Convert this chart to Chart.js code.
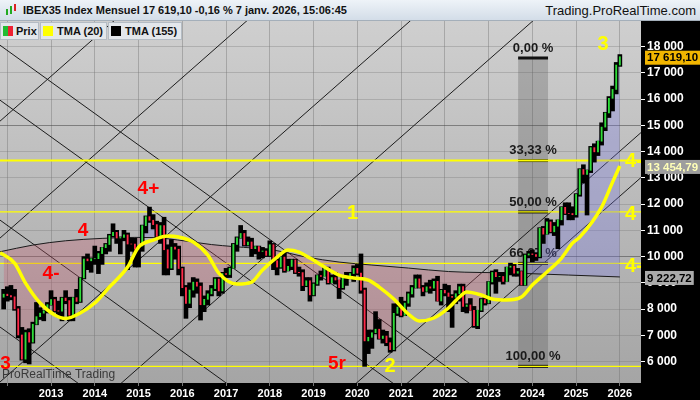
<!DOCTYPE html>
<html>
<head>
<meta charset="utf-8">
<script src="https://cdn.jsdelivr.net/npm/chart.js@4.4.1/dist/chart.umd.min.js"></script>
<style>
  body { margin: 0; background: #000; font-family: "Liberation Sans", Arial, sans-serif; }
  #wrap { position: relative; width: 700px; height: 400px; overflow: hidden; }
  #chart { position: absolute; left: 0; top: 0; }
  #head { position: absolute; left: 0; top: 0; width: 700px; height: 21px; box-sizing: border-box;
          background: linear-gradient(#eef3f8, #d3dde8); border-bottom: 1px solid #a4afba; }
  #head .ico { position: absolute; left: 6px; top: 4px; width: 12px; height: 12px; }
  #head .ico i { position: absolute; width: 2px; }
  #head .ttl { position: absolute; left: 23px; top: 4px; font: bold 11px "Liberation Sans", Arial, sans-serif; color: #111; white-space: nowrap; }
  #head .site { position: absolute; right: 4px; top: 3px; font: 13px "Liberation Sans", Arial, sans-serif; color: #111; }
  .item { position: absolute; top: 22px; height: 18px; box-sizing: border-box; background: #e3e7eb;
          border: 1px solid #b4bcc4; font: bold 11px "Liberation Sans", Arial, sans-serif; color: #111; line-height: 16px; white-space: nowrap; }
  .item b { position: absolute; top: 3px; width: 10px; height: 10px; }
  .item span { position: absolute; top: 0; }
</style>
</head>
<body>
<div id="wrap">
  <canvas id="chart" width="700" height="400"></canvas>
  <div id="head">
    <div class="ico">
      <i style="left:0;top:5px;height:6px;background:#2a2;"></i>
      <i style="left:4px;top:2px;height:8px;background:#2a2;"></i>
      <i style="left:8px;top:0;height:7px;background:#d22;"></i>
    </div>
    <span class="ttl">IBEX35 Index Mensuel 17 619,10 -0,16 % 7 janv. 2026, 15:06:45</span>
    <span class="site">Trading.ProRealTime.com</span>
  </div>
  <div class="item" style="left:0;width:39px"><b style="left:2px;background:linear-gradient(90deg,#22bb33 50%,#ee2233 50%)"></b><span style="left:15px">Prix</span></div>
  <div class="item" style="left:40px;width:67px"><b style="left:2px;background:#ffff00"></b><span style="left:16px">TMA (20)</span></div>
  <div class="item" style="left:108px;width:74px"><b style="left:2px;background:#000"></b><span style="left:16px">TMA (155)</span></div>
</div>
<script>
// IBEX35 monthly candles, Dec 2011 -> Jan 2026
const firstYear = 2011, firstMonth = 12;

const opens = [
  8450,
  8566, 8509, 8465, 8008, 7011, 6089, 7102, 6738, 7420, 7708, 7842, 7934,        // 2012
  8167, 8362, 7933, 7920, 8419, 8320, 7763, 8434, 8290, 9186, 9907, 9838,        // 2013
  9917, 9920, 10114, 10340, 10459, 10798, 10923, 10707, 10729, 10825, 10478, 10477, // 2014
  10280, 10403, 11178, 11521, 11385, 11218, 10770, 11180, 10260, 9560, 10360, 10280, // 2015
  9544, 8815, 8218, 8723, 9025, 8870, 8163, 8370, 8578, 8779, 9143, 8689,        // 2016
  9352, 9315, 9555, 10463, 10715, 10880, 10445, 10556, 10300, 10381, 10198, 10211, // 2017
  10044, 10451, 9840, 9600, 9980, 9466, 9623, 9871, 9399, 9389, 8894, 9077,      // 2018
  8540, 8954, 9277, 9240, 9571, 9004, 9199, 9106, 8813, 9245, 9258, 9352,        // 2019
  9549, 9367, 8723, 6785, 6922, 7096, 7231, 6877, 6970, 6717, 6452, 7836,        // 2020
  8074, 7758, 8225, 8580, 8815, 9148, 8821, 8675, 8846, 8796, 9057, 8306,        // 2021
  8714, 8612, 8482, 8445, 8584, 8851, 8099, 8156, 7950, 7367, 7956, 8363,        // 2022
  8229, 9035, 9394, 9232, 9241, 9051, 9593, 9635, 9365, 9429, 8918, 10058,       // 2023
  10102, 10078, 10001, 11075, 10854, 11322, 10944, 11157, 11402, 11877, 11645, 11641, // 2024
  11595, 12368, 13319, 13135, 13287, 14152, 13992, 14398, 14936, 15475, 16032, 16371, // 2025
  17300                                                                          // 2026
];
const highs = [
  8750,
  8850, 8900, 8750, 8100, 7300, 7200, 7250, 7500, 8250, 8050, 7950, 8250,
  8700, 8450, 8300, 8450, 8700, 8450, 8450, 8750, 9200, 10000, 10100, 9950,
  10400, 10200, 10350, 10500, 10850, 11250, 11000, 10750, 11000, 10900, 10700, 10700,
  10400, 11200, 11550, 11885, 11600, 11350, 11300, 11500, 10450, 10650, 10500, 10400,
  9600, 8900, 9000, 9200, 9150, 9000, 8500, 8700, 8900, 9200, 9200, 9400,
  9550, 9600, 10500, 10750, 11185, 11000, 10750, 10700, 10400, 10400, 10350, 10300,
  10600, 10500, 9900, 10000, 10200, 9900, 9900, 9900, 9600, 9500, 9200, 9200,
  9000, 9300, 9450, 9600, 9600, 9300, 9400, 9100, 9250, 9400, 9400, 9650,
  9700, 10100, 8800, 7200, 7200, 7900, 7600, 7200, 7150, 6900, 8200, 8200,
  8450, 8300, 8650, 8900, 9300, 9300, 8900, 9000, 9100, 9150, 9250, 8750,
  8950, 8900, 8550, 8700, 8950, 8950, 8200, 8400, 8100, 7950, 8400, 8500,
  9050, 9450, 9500, 9400, 9400, 9600, 9750, 9700, 9550, 9450, 10100, 10200,
  10250, 10150, 11100, 11150, 11450, 11400, 11300, 11400, 11900, 12050, 12050, 11900,
  12400, 13350, 13500, 13300, 14200, 14300, 14400, 15100, 15500, 16100, 16500, 17400,
  17700
];
const lows = [
  8000,
  8300, 8350, 7950, 6900, 6050, 5950, 5905, 6700, 7400, 7600, 7550, 7850,
  8150, 7880, 7700, 7550, 8200, 7550, 7550, 8200, 8250, 9150, 9500, 9400,
  9700, 9350, 9700, 10100, 10200, 10750, 10500, 10100, 10600, 9500, 10200, 9600,
  9600, 10200, 10900, 11300, 11050, 10650, 10500, 9300, 9300, 9500, 9900, 9300,
  8500, 7645, 8050, 8450, 8600, 7580, 7900, 8150, 8500, 8700, 8500, 8600,
  9200, 9200, 9550, 10200, 10700, 10400, 10400, 10000, 10100, 9900, 9950, 10000,
  10000, 9500, 9300, 9550, 9400, 9450, 9500, 9350, 9250, 8700, 8850, 8300,
  8500, 8900, 9100, 9250, 8950, 9000, 8950, 8400, 8750, 8900, 9150, 9050,
  9300, 8600, 5814, 6300, 6500, 7050, 6850, 6700, 6600, 6350, 6400, 7750,
  7700, 7750, 8100, 8450, 8800, 8800, 8500, 8650, 8600, 8700, 8300, 8150,
  8500, 7900, 7300, 8200, 8300, 7900, 7850, 7950, 7300, 7250, 7900, 8150,
  8200, 8950, 8600, 9050, 8950, 9050, 9300, 9250, 9250, 8900, 8900, 9950,
  9800, 9850, 9950, 10500, 10850, 10900, 10800, 10300, 11200, 11600, 11400, 11400,
  11500, 12300, 12800, 11583, 13200, 13600, 13850, 14250, 14800, 15300, 15550, 16200,
  17250
];
const closes = [
  8566,
  8509, 8465, 8008, 7011, 6089, 7102, 6738, 7420, 7708, 7842, 7934, 8167,
  8362, 7933, 7920, 8419, 8320, 7763, 8434, 8290, 9186, 9907, 9838, 9917,
  9920, 10114, 10340, 10459, 10798, 10923, 10707, 10729, 10825, 10478, 10477, 10280,
  10403, 11178, 11521, 11385, 11218, 10770, 11180, 10260, 9560, 10360, 10280, 9544,
  8815, 8218, 8723, 9025, 8870, 8163, 8370, 8578, 8779, 9143, 8689, 9352,
  9315, 9555, 10463, 10715, 10880, 10445, 10556, 10300, 10381, 10198, 10211, 10044,
  10451, 9840, 9600, 9980, 9466, 9623, 9871, 9399, 9389, 8894, 9077, 8540,
  8954, 9277, 9240, 9571, 9004, 9199, 9106, 8813, 9245, 9258, 9352, 9549,
  9367, 8723, 6785, 6922, 7096, 7231, 6877, 6970, 6717, 6452, 7836, 8074,
  7758, 8225, 8580, 8815, 9148, 8821, 8675, 8846, 8796, 9057, 8306, 8714,
  8612, 8482, 8445, 8584, 8851, 8099, 8156, 7950, 7367, 7956, 8363, 8229,
  9035, 9394, 9232, 9241, 9051, 9593, 9635, 9365, 9429, 8918, 10058, 10102,
  10078, 10001, 11075, 10854, 11322, 10944, 11157, 11402, 11877, 11645, 11641, 11595,
  12368, 13319, 13135, 13287, 14152, 13992, 14398, 14936, 15475, 16032, 16371, 17300,
  17619.10
];

// moving averages (month index 0 = Jan 2012)
const tma20Months = [-2, 2, 5, 9, 13, 16, 20, 24, 28, 33, 36, 40, 44, 47, 51, 55, 58, 63, 67, 70, 74, 77, 80, 83,
                     87, 91, 95, 99, 102, 106, 110, 113, 117, 121, 124, 126, 130, 133, 137, 141, 144, 148, 152, 155, 157, 163, 166, 168];
const tma20Values = [10150, 9752, 8990, 8229, 7771, 7640, 7848, 8229, 8838, 9600, 10362, 10629, 10781, 10743, 10552, 10057, 9371, 8952, 9029, 9486, 9981, 10248, 10171, 9943,
                     9600, 9295, 9181, 9105, 8838, 8381, 7810, 7543, 7657, 8038, 8457, 8648, 8533, 8381, 8343, 8457, 8914, 9410, 9943, 10514, 10743, 11886, 12838, 13454.79];
const tma155Months = [-2, 7, 16, 26, 35, 40, 49, 56, 62, 73, 82, 91, 100, 110, 121, 139, 154, 168];
const tma155Values = [10183, 10438, 10602, 10693, 10731, 10724, 10590, 10457, 10381, 10248, 9981, 9790, 9676, 9562, 9429, 9371, 9295, 9222.72];

const yearTicks = [2012, 2013, 2014, 2015, 2016, 2017, 2018, 2019, 2020, 2021, 2022, 2023, 2024, 2025, 2026];
const priceTicks = [6000, 7000, 8000, 9000, 10000, 11000, 12000, 13000, 14000, 15000, 16000, 17000, 18000];

// Gann lines: value at the left edge and at the right edge of the chart
const gannUp = [[15162, 36670], [10705, 32213], [5219, 26728], [1105, 22613], [-6781, 14727], [-8495, 13013]];
const gannDown = [[18057, 457], [15962, -1638], [11390, -6210], [7314, -10286]];

// retracement tool
const fibLevels = [17570, 13660, 11700, 9740, 5815];
const fibLabels = ['0,00 %', '33,33 %', '50,00 %', '66,67 %', '100,00 %'];
const fibMonths = [140.1, 148.3];

// wave counts
const redNotes = ['4+', '4', '4-', '3', '5r'];
const redMonths = [38.7, 20.8, 12.0, -0.5, 90.4];
const redValues = [12571, 10971, 9352, 5924, 5924];
const yellowNotes = ['1', '2', '3'];
const yellowMonths = [94.7, 105, 163.4];
const yellowValues = [11638, 5810, 18076];
const edgeNotes = ['4-', '4', '4-'];
const edgeValues = [13619, 11619, 9619];

const lastValues = [17619.10, 13454.79, 9222.72];

const xMin = -2, xMax = 173.8;
const startIdx = (firstYear - 2012) * 12 + firstMonth - 1;

const fmt = (v, dec) => {
  const parts = v.toFixed(dec).split('.');
  const ent = parts[0].replace(/\B(?=(\d{3})+(?!\d))/g, ' ');
  return parts[1] ? ent + ',' + parts[1] : ent;
};

const FONT = '"Liberation Sans", Arial, sans-serif';
Chart.defaults.font.family = FONT;

const rangeData = closes.map((c, i) => ({x: startIdx + i, y: [lows[i], highs[i]]}));
const bodyData = closes.map((c, i) => ({x: startIdx + i, y: [opens[i], c]}));
const bodyColors = closes.map((c, i) => c >= opens[i] ? '#2fdd3a' : '#ff2a4a');

const datasets = [
  {type: 'line', label: 'TMA (20)', data: tma20Months.map((m, i) => ({x: m, y: tma20Values[i]})),
   borderColor: '#ffff00', borderWidth: 3.5, pointRadius: 0, cubicInterpolationMode: 'monotone', order: 0},
  {type: 'bar', label: 'corps', data: bodyData, backgroundColor: bodyColors, barThickness: 1.2, grouped: false, order: 1},
  {type: 'bar', label: 'Prix', data: rangeData, backgroundColor: '#000', barThickness: 4, grouped: false, order: 2},
  {type: 'line', label: 'TMA (155)', data: tma155Months.map((m, i) => ({x: m, y: tma155Values[i]})),
   borderColor: '#1a1a1a', borderWidth: 1, pointRadius: 0, cubicInterpolationMode: 'monotone', order: 3},
  {type: 'line', label: 'zone', data: closes.map((c, i) => ({x: startIdx + i, y: c})),
   borderColor: 'transparent', borderWidth: 1, pointRadius: 0,
   fill: {target: 3, above: 'rgba(120,120,230,0.3)', below: 'rgba(200,90,110,0.3)'}, order: 4}
];

fibLevels.slice(1).forEach((lv, i) => {
  datasets.push({type: 'line', data: [{x: xMin, y: lv}, {x: xMax, y: lv}],
    borderColor: '#ffff00', borderWidth: i === 0 ? 2 : 1.3, pointRadius: 0, order: 5});
});
gannUp.concat(gannDown).forEach(g => {
  datasets.push({type: 'line', data: [{x: xMin, y: g[0]}, {x: xMax, y: g[1]}],
    borderColor: '#1c1c1c', borderWidth: 1, pointRadius: 0, order: 6});
});

const backdrop = {
  id: 'backdrop',
  beforeDraw(chart) {
    const {ctx, chartArea: a} = chart;
    ctx.save();
    ctx.fillStyle = '#000';
    ctx.fillRect(0, 0, chart.width, chart.height);
    const g = ctx.createLinearGradient(0, a.top, 0, a.bottom);
    g.addColorStop(0, '#cfcfcf');
    g.addColorStop(1, '#a5a5a5');
    ctx.fillStyle = g;
    ctx.fillRect(a.left, a.top, a.right - a.left, a.bottom - a.top);
    ctx.restore();
  }
};

const fibo = {
  id: 'fibo',
  beforeDatasetsDraw(chart) {
    const {ctx, scales: {x, y}} = chart;
    const x0 = x.getPixelForValue(fibMonths[0]), x1 = x.getPixelForValue(fibMonths[1]);
    const yTop = y.getPixelForValue(fibLevels[0]);
    const yBot = y.getPixelForValue(fibLevels[fibLevels.length - 1]);
    ctx.save();
    ctx.fillStyle = 'rgba(80,80,80,0.28)';
    ctx.fillRect(x0, yTop, x1 - x0, yBot - yTop);
    ctx.font = 'bold 13px ' + FONT;
    ctx.textAlign = 'center';
    ctx.textBaseline = 'middle';
    fibLevels.forEach((lv, i) => {
      const py = y.getPixelForValue(lv);
      ctx.fillStyle = '#111';
      ctx.fillRect(x0, py - 1.5, x1 - x0, 3);
      ctx.fillStyle = '#1a1a1a';
      ctx.fillText(fibLabels[i], (x0 + x1) / 2, py - 10);
    });
    ctx.restore();
  }
};

const notes = {
  id: 'notes',
  afterDatasetsDraw(chart) {
    const {ctx, chartArea: a, scales: {x, y}} = chart;
    ctx.save();
    ctx.beginPath();
    ctx.rect(a.left, a.top, a.right - a.left, a.bottom - a.top);
    ctx.clip();
    ctx.textBaseline = 'middle';
    ctx.textAlign = 'center';
    ctx.font = 'bold 19px ' + FONT;
    ctx.fillStyle = '#ff0000';
    redNotes.forEach((t, i) => ctx.fillText(t, x.getPixelForValue(redMonths[i]), y.getPixelForValue(redValues[i])));
    ctx.font = 'bold 20px ' + FONT;
    ctx.fillStyle = '#ffff00';
    yellowNotes.forEach((t, i) => ctx.fillText(t, x.getPixelForValue(yellowMonths[i]), y.getPixelForValue(yellowValues[i])));
    ctx.textAlign = 'left';
    edgeNotes.forEach((t, i) => ctx.fillText(t, a.right - 16, y.getPixelForValue(edgeValues[i])));
    ctx.font = '12px ' + FONT;
    ctx.fillStyle = '#3a3a3a';
    ctx.textBaseline = 'bottom';
    ctx.fillText('ProRealTime Trading', a.left + 2, a.bottom - 2);
    ctx.restore();
  }
};

const lastBoxes = {
  id: 'lastBoxes',
  afterDraw(chart) {
    const {ctx, chartArea: a, scales: {y}} = chart;
    const looks = [['#f2b600', '#000'], ['#9e9e9e', '#ffffb8'], ['#ababab', '#000']];
    ctx.save();
    ctx.font = 'bold 11.5px ' + FONT;
    ctx.textBaseline = 'middle';
    ctx.textAlign = 'left';
    lastValues.forEach((v, i) => {
      const py = y.getPixelForValue(v) + 1;
      const t = fmt(v, 2);
      const w = ctx.measureText(t).width + 4;
      ctx.fillStyle = looks[i][0];
      ctx.fillRect(a.right + 4, py - 7, w, 14);
      ctx.fillStyle = looks[i][1];
      ctx.fillText(t, a.right + 6, py + 0.5);
    });
    ctx.restore();
  }
};

new Chart(document.getElementById('chart'), {
  type: 'bar',
  data: {datasets},
  options: {
    responsive: false,
    animation: false,
    devicePixelRatio: 1,
    events: [],
    layout: {padding: {top: 21, left: 0, right: 0, bottom: 0}},
    plugins: {legend: {display: false}, tooltip: {enabled: false}},
    scales: {
      x: {
        type: 'linear', min: xMin, max: xMax, offset: false,
        afterBuildTicks: s => { s.ticks = yearTicks.map(yr => ({value: (yr - 2012) * 12})); },
        afterFit: s => { s.height = 17; },
        grid: {offset: false, color: 'rgba(110,110,110,0.4)', tickLength: 3, tickColor: '#777'},
        border: {display: false},
        ticks: {
          autoSkip: false, maxRotation: 0, padding: 1, color: '#fff',
          font: {size: 11, weight: 'bold'},
          callback: v => (v === 0 ? '' : String(2012 + v / 12))
        }
      },
      y: {
        type: 'linear', position: 'right', min: 5180, max: 18980,
        afterBuildTicks: s => { s.ticks = priceTicks.map(v => ({value: v})); },
        afterFit: s => { s.width = 59; },
        grid: {
          color: c => (c.tick && c.tick.value % 5000 === 0 ? 'rgba(70,70,70,0.55)' : 'rgba(120,120,120,0.35)'),
          tickLength: 4, tickColor: '#fff'
        },
        border: {display: false},
        ticks: {color: '#fff', padding: 2, font: {size: 12, weight: 'bold'}, callback: v => fmt(v, 0)}
      }
    }
  },
  plugins: [backdrop, fibo, notes, lastBoxes]
});
</script>
</body>
</html>
